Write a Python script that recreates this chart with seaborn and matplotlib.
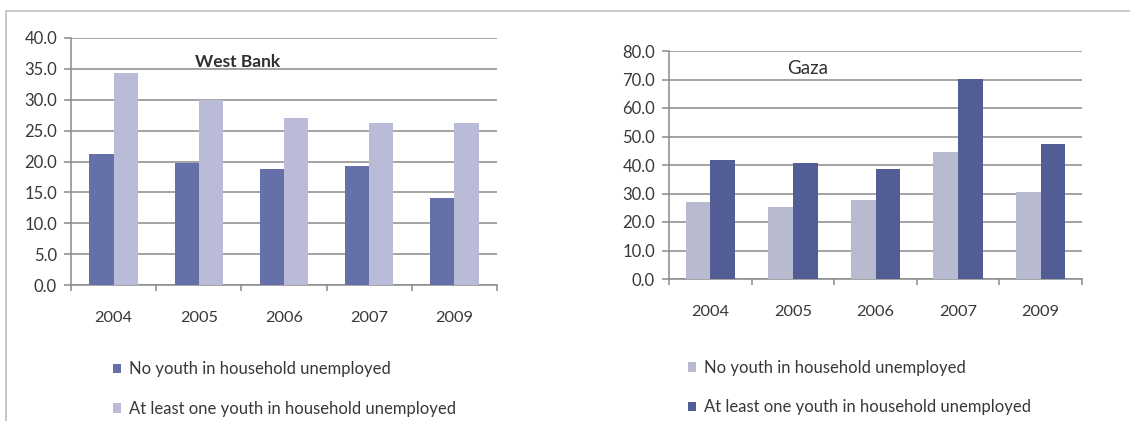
import matplotlib
matplotlib.use("Agg")
import matplotlib.pyplot as plt
import seaborn as sns
import pandas as pd
from matplotlib.lines import Line2D
from matplotlib.patches import Patch

years = ["2004", "2005", "2006", "2007", "2009"]
series_names = ["No youth in household unemployed", "At least one youth in household unemployed"]
wb_no_youth = [21.2, 19.8, 18.8, 19.2, 14.1]
wb_at_least_one = [34.4, 30.0, 27.0, 26.2, 26.2]
gaza_no_youth = [26.9, 25.2, 27.6, 44.4, 30.6]
gaza_at_least_one = [41.6, 40.6, 38.5, 70.1, 47.4]
wb_ticks = [0, 5, 10, 15, 20, 25, 30, 35, 40]
gaza_ticks = [0, 10, 20, 30, 40, 50, 60, 70, 80]

sns.set_theme(style="white")
plt.rcParams["font.family"] = ["Lato", "DejaVu Sans"]

dark_wb = "#6670a8"
light_wb = "#b9bbd7"
dark_gz = "#525d95"
light_gz = "#b8bbcf"
grid_c = "#8a8a8a"
text_c = "#383838"

def make_df(a, b):
    return pd.DataFrame({
        "year": years * 2,
        "series": [series_names[0]] * len(years) + [series_names[1]] * len(years),
        "value": list(a) + list(b),
    })

fig = plt.figure(figsize=(11.3, 4.21), dpi=100)
ax1 = fig.add_axes([71/1130, 1-285/421, 426/1130, (285-38)/421])
ax2 = fig.add_axes([669/1130, 1-279/421, 413/1130, (279-51)/421])

def style(ax, df, palette, ticks, ymax, width):
    sns.barplot(data=df, x="year", y="value", hue="series", hue_order=series_names,
                palette=palette, ax=ax, width=width, legend=False, saturation=1,
                linewidth=0, zorder=3)
    ax.set_ylim(0, ymax)
    ax.set_xlim(-0.5, len(years) - 0.5)
    ax.set_yticks(ticks)
    ax.set_yticklabels([f"{t:.1f}" for t in ticks])
    ax.set_xlabel("")
    ax.set_ylabel("")
    ax.yaxis.grid(True, color=grid_c, lw=1.1, zorder=0)
    ax.set_axisbelow(True)
    for s in ["top", "right"]:
        ax.spines[s].set_visible(False)
    for s in ["left", "bottom"]:
        ax.spines[s].set_color(grid_c)
        ax.spines[s].set_linewidth(1.1)
    ax.tick_params(axis="y", which="major", left=True, length=5, width=1.1, color=grid_c,
                   pad=5, labelsize=12, labelcolor=text_c)
    ax.set_xticks(range(len(years)))
    ax.set_xticks([i + 0.5 for i in range(-1, len(years))], minor=True)
    ax.tick_params(axis="x", which="major", bottom=False, length=0, pad=19,
                   labelsize=11.8, labelcolor=text_c)
    ax.tick_params(axis="x", which="minor", bottom=True, length=4, width=1.1, color=grid_c)

style(ax1, make_df(wb_no_youth, wb_at_least_one), [dark_wb, light_wb], wb_ticks, 40, 0.57)
style(ax2, make_df(gaza_no_youth, gaza_at_least_one), [light_gz, dark_gz], gaza_ticks, 80, 0.6)

fig.text(195/1130, 1-62/421, "West Bank", fontsize=12.5, fontweight="bold",
         color="#303030", va="center", ha="left")
fig.text(787/1130, 1-68/421, "Gaza", fontsize=13.5, color="#303030", va="center", ha="left")

def add_legend(colors, x, y):
    handles = [Patch(facecolor=c, edgecolor="none") for c in colors]
    fig.legend(handles, series_names, loc="center left", bbox_to_anchor=(x, y),
               frameon=False, fontsize=12, handlelength=0.5, handleheight=0.5,
               handletextpad=0.45, labelspacing=1.4, borderpad=0, borderaxespad=0,
               labelcolor=text_c)

add_legend([dark_wb, light_wb], 113/1130, 1-389/421)
add_legend([light_gz, dark_gz], 688/1130, 1-387.5/421)

frame_c = "#c4c4c4"
fig.add_artist(Line2D([6/1130, 1], [1-11/421, 1-11/421], transform=fig.transFigure,
                      color=frame_c, lw=1.3))
fig.add_artist(Line2D([6/1130, 6/1130], [0, 1-11/421], transform=fig.transFigure,
                      color=frame_c, lw=1.3))

fig.savefig("out.png", dpi=100, facecolor="white")
